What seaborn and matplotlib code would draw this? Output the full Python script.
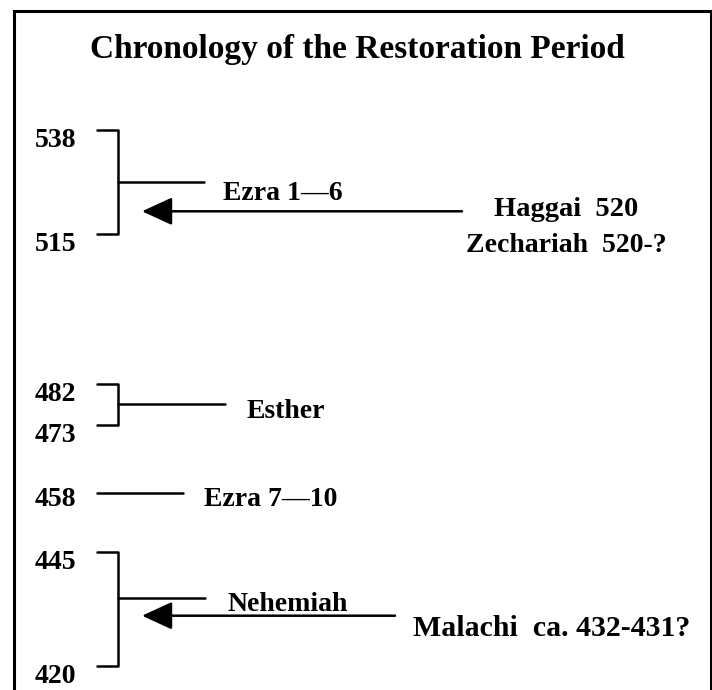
import matplotlib
matplotlib.use('Agg')
import matplotlib.pyplot as plt
import numpy as np
import pandas as pd
import seaborn as sns

# data: years (BC) and what they bracket
bracket_start = [538, 482, 445]
bracket_end = [515, 473, 420]
bracket_books = ['Ezra 1\u20146', 'Esther', 'Nehemiah']
single_year = [458]
single_books = ['Ezra 7\u201410']
prophet_year = [520, 431]
prophet_labels = ['Haggai  520\nZechariah  520-?', 'Malachi  ca. 432-431?']
title = 'Chronology of the Restoration Period'

# layout (pixel x positions, fraction of bracket for connector)
tick_x0, bracket_x = 97, 118
connector_end = [204, 225, 205]
connector_frac = [0.5, 0.5, 0.4]
book_text_x = [223, 247, 227]
single_end, single_text_x = 183, 204
arrow_tip = [142, 142]
arrow_tail = [462, 395]

sns.set_style('white')
plt.rcParams['font.family'] = ['Liberation Serif', 'DejaVu Serif']
plt.rcParams['font.weight'] = 'bold'
plt.rcParams['text.color'] = 'black'

fig = plt.figure(figsize=(7.12, 6.90), dpi=100)
ax = fig.add_axes([0, 0, 1, 1])
ax.set_xlim(0, 712)
ax.set_ylim(414.65, 566.5)
ax.axis('off')

# build line segments for seaborn
rows = []
seg = 0
for y0, y1, cx, fr in zip(bracket_start, bracket_end, connector_end, connector_frac):
    for x, y in [(tick_x0, y0), (bracket_x, y0), (bracket_x, y1), (tick_x0, y1)]:
        rows.append(dict(x=x, year=y, seg=seg))
    seg += 1
    ymid = y0 + (y1 - y0) * fr
    rows.append(dict(x=bracket_x, year=ymid, seg=seg))
    rows.append(dict(x=cx, year=ymid, seg=seg))
    seg += 1
for y in single_year:
    rows.append(dict(x=tick_x0, year=y, seg=seg))
    rows.append(dict(x=single_end, year=y, seg=seg))
    seg += 1
segs = pd.DataFrame(rows)

sns.lineplot(data=segs, x='x', y='year', units='seg', estimator=None, sort=False,
             color='black', lw=1.8, ax=ax, legend=False)

txt = dict(fontweight='bold', color='black', textcoords='offset pixels')

# year labels
for y0, y1 in zip(bracket_start, bracket_end):
    ax.annotate(str(y0), (76, y0), xytext=(0, -17), ha='right', va='baseline', fontsize=20, **txt)
    ax.annotate(str(y1), (76, y1), xytext=(0, -17), ha='right', va='baseline', fontsize=20, **txt)
for y in single_year:
    ax.annotate(str(y), (76, y), xytext=(0, -13), ha='right', va='baseline', fontsize=20, **txt)

# book labels
for y0, y1, fr, bx, book, dy in zip(bracket_start, bracket_end, connector_frac,
                                    book_text_x, bracket_books, [-18, -14, -13]):
    ymid = y0 + (y1 - y0) * fr
    ax.annotate(book, (bx, ymid), xytext=(0, dy), ha='left', va='baseline', fontsize=20, **txt)
for y, book in zip(single_year, single_books):
    ax.annotate(book, (single_text_x, y), xytext=(0, -13), ha='left', va='baseline',
                fontsize=20, **txt)

# prophet arrows
for y, tip, tail in zip(prophet_year, arrow_tip, arrow_tail):
    ax.annotate('', xy=(tip, y), xytext=(tail, y),
                arrowprops=dict(arrowstyle='-|>,head_length=1.87,head_width=0.86',
                                mutation_scale=10, lw=1.8, color='black',
                                shrinkA=0, shrinkB=0))
hz, zc = prophet_labels[0].split('\n')
ax.annotate(hz, (566, prophet_year[0]), xytext=(0, -5), ha='center', va='baseline',
            fontsize=20.5, **txt)
ax.annotate(zc, (566, prophet_year[0]), xytext=(0, -41), ha='center', va='baseline',
            fontsize=20, **txt)
ax.annotate(prophet_labels[1], (413, prophet_year[1]), xytext=(0, -20),
            ha='left', va='baseline', fontsize=21.5, **txt)

# title
fig.text(357 / 712, 1 - 58 / 690, title, ha='center', va='baseline',
         fontsize=24, fontweight='bold', color='black')

# frame (open at the bottom)
fx0, fx1, fy = 13.5 / 712, 710.5 / 712, 1 - 10.5 / 690
ax.plot([fx0, fx0, fx1, fx1], [-0.05, fy, fy, -0.05], transform=ax.transAxes,
        color='black', lw=2.2, clip_on=False, solid_joinstyle='miter')

fig.savefig('out.png', dpi=100)
